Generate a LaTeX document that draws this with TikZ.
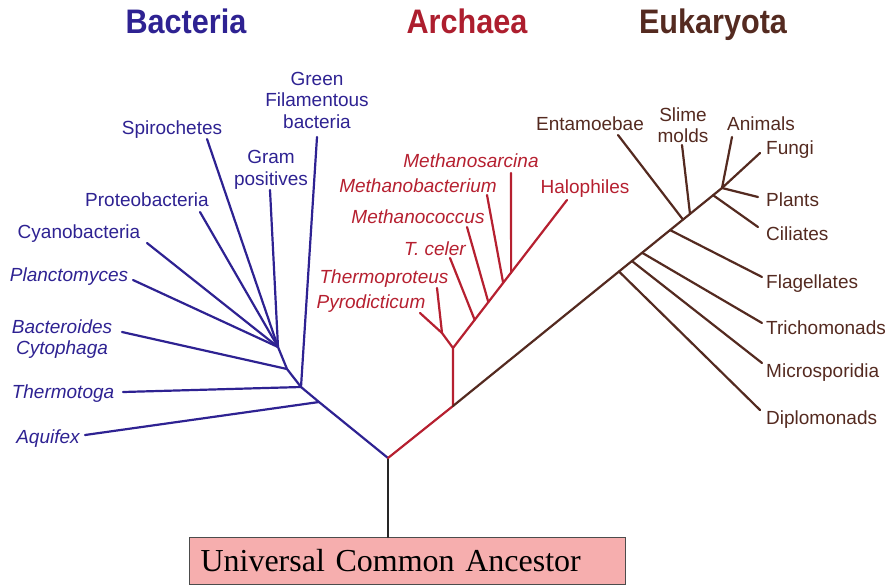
\documentclass[tikz,border=0pt]{standalone}
\usepackage{fontspec}
\setmainfont{Liberation Sans}
\newfontfamily\kingdomfont[FakeStretch=0.9]{Liberation Sans}
\newfontfamily\ancestorfont{Liberation Serif}
\usepackage{tikz}
\usetikzlibrary{positioning, calc}

\begin{document}
\begin{tikzpicture}[x=1pt,y=-1pt,
    kingdom/.style={font=\kingdomfont\bfseries\fontsize{34}{36}\selectfont, inner sep=0pt, anchor=base},
    taxon/.style={font=\fontsize{19}{21.5}\selectfont, inner sep=0pt, align=center},
    branch/.style={line width=2.2pt, line cap=round}]

\useasboundingbox (0,0) rectangle (894,584);

% Colors
\definecolor{bactblue}{RGB}{46,34,146}
\definecolor{archred}{RGB}{182,32,48}
\definecolor{eukbrown}{RGB}{84,42,32}
\definecolor{ancpink}{RGB}{246,174,174}

% Titles
\node[kingdom, bactblue] (tbac) at (186,33) {Bacteria};
\node[kingdom, archred!95!black] (tarc) at (467,33) {Archaea};
\node[kingdom, eukbrown] (teuk) at (713,33) {Eukaryota};

% Ancestor
\node[draw=black!70, fill=ancpink, line width=1pt, anchor=north west,
      inner xsep=11pt, text width=414pt, minimum height=47pt, align=left,
      font=\ancestorfont\fontsize{32}{34}\selectfont] (anc) at (189,537) {Universal Common Ancestor};

\coordinate (root) at (388,458);
\draw[branch, black!85] (root) -- (root |- anc.north);

% Bacteria
\coordinate (bA) at (319,402);
\coordinate (bT) at (301,387);
\coordinate (bB) at (287,369);
\coordinate (bC) at (278,347);
\draw[branch, bactblue] (root) -- (bA) -- (bT) -- (bB) -- (bC);

\foreach \n/\from/\x/\y in {aqu/bA/85/435, ttg/bT/123/392, bct/bB/122/332, plc/bC/133/280,
    cya/bC/147/243, pro/bC/200/212, spi/bC/207/139, grp/bC/270/190, gfb/bT/317/137} {
    \coordinate (\n) at (\x,\y);
    \draw[branch, bactblue] (\from) -- (\n);
}

\node[taxon, bactblue] (lgfb) at (317,100) {Green\\Filamentous\\bacteria};
\node[taxon, bactblue] (lgrp) at (271,170) {Gram\\positives};
\node[taxon, bactblue, font=\fontsize{19}{21}\selectfont\itshape] (lbct) at (62,339) {Bacteroides\\Cytophaga};
\foreach \n/\t/\x/\y in {lspi/Spirochetes/172/132, lpro/Proteobacteria/147/204, lcya/Cyanobacteria/79/236} {
    \node[taxon, bactblue, anchor=mid] (\n) at (\x,\y) {\t};
}
\foreach \n/\t/\x/\y in {lplc/Planctomyces/69/279, lttg/Thermotoga/63/396, laqu/Aquifex/48/441} {
    \node[taxon, bactblue, anchor=mid, font=\fontsize{19}{21.5}\selectfont\itshape] (\n) at (\x,\y) {\t};
}

% Archaea
\coordinate (aR) at (453,406);
\coordinate (aS) at (453,348);
\coordinate (aP) at (442,333);
\coordinate (hal) at (567,200);
\coordinate (pyr) at (420,313);
\coordinate (tpr) at (437,288);
\draw[branch, archred] (root) -- (aR) -- (aS) -- (hal);
\draw[branch, archred] (pyr) -- (aP) -- (aS);
\draw[branch, archred] (tpr) -- (aP);

\foreach \n/\t/\x/\y in {tce/0.19/450/258, mcc/0.31/467/227, mbc/0.44/487/195, msa/0.51/511/173} {
    \coordinate (\n) at (\x,\y);
    \draw[branch, archred] ($(aS)!\t!(hal)$) -- (\n);
}

\node[taxon, archred, anchor=mid] (lhal) at (585,191) {Halophiles};
\foreach \n/\t/\x/\y in {lmsa/Methanosarcina/471/165, lmbc/Methanobacterium/418/190,
    lmcc/Methanococcus/418/221, ltce/T. celer/435/253, ltpr/Thermoproteus/384/281, lpyr/Pyrodicticum/371/306} {
    \node[taxon, archred, anchor=mid, font=\fontsize{19}{21.5}\selectfont\itshape] (\n) at (\x,\y) {\t};
}

% Eukaryota
\coordinate (eF) at (722,188);
\coordinate (fun) at (760,153);
\draw[branch, eukbrown] (aR) -- (eF) -- (fun);

\foreach \n/\t/\x/\y in {dip/0.617/760/410, mic/0.665/762/363, tri/0.703/762/323, fla/0.807/762/277,
    ent/0.855/618/135, slm/0.881/682/145, cil/0.967/758/227} {
    \coordinate (\n) at (\x,\y);
    \draw[branch, eukbrown] ($(aR)!\t!(eF)$) -- (\n);
}
\coordinate (plt) at (758,197);
\coordinate (ani) at (732,137);
\draw[branch, eukbrown] (eF) -- (plt);
\draw[branch, eukbrown] (eF) -- (ani);

\node[taxon, eukbrown, anchor=mid] (lent) at (590,128) {Entamoebae};
\node[taxon, eukbrown] (lslm) at (683,125) {Slime\\molds};
\node[taxon, eukbrown, anchor=mid] (lani) at (761,128) {Animals};
\foreach \n/\t/\y in {lfun/Fungi/152, lplt/Plants/204, lcil/Ciliates/238, lfla/Flagellates/286,
    ltri/Trichomonads/332, lmic/Microsporidia/375, ldip/Diplomonads/422} {
    \node[taxon, eukbrown, anchor=mid west] (\n) at (766,\y) {\t};
}

\end{tikzpicture}
\end{document}
